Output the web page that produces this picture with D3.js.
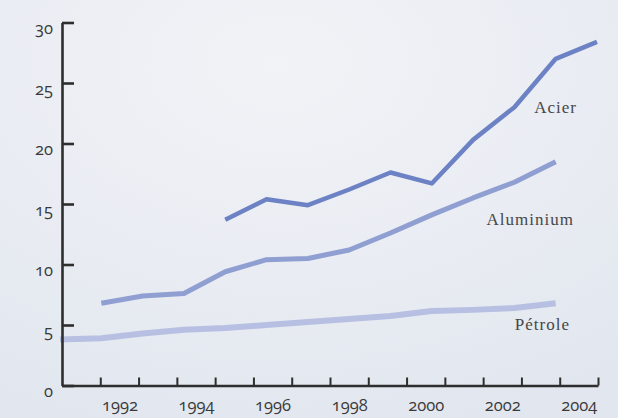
<!DOCTYPE html>
<html>
<head>
<meta charset="utf-8">
<script src="https://cdn.jsdelivr.net/npm/d3@7"></script>
<style>
  html, body { margin: 0; padding: 0; }
  body { width: 618px; height: 418px; overflow: hidden; }
  .num { font-family: "Open Sans", "Noto Sans", sans-serif; font-size: 16.5px; fill: #3a3a3a;
         font-variant-numeric: oldstyle-nums; font-feature-settings: "onum" 1; }
  .lbl { font-family: "Liberation Serif", "DejaVu Serif", serif; font-size: 17px; fill: #474747; letter-spacing: 1px; }
</style>
</head>
<body>
<div class="chart-area"></div>
<script>
// data (index = year)
const petroleYears = [1991, 1992, 1993, 1994, 1995, 1996, 1997, 1998, 1999, 2000, 2001, 2002, 2003];
const petrole = [3.8, 3.9, 4.3, 4.6, 4.75, 5.0, 5.25, 5.5, 5.75, 6.15, 6.25, 6.4, 6.8];
const aluminiumYears = [1992, 1993, 1994, 1995, 1996, 1997, 1998, 1999, 2000, 2001, 2002, 2003];
const aluminium = [6.8, 7.4, 7.6, 9.4, 10.4, 10.5, 11.2, 12.6, 14.1, 15.5, 16.8, 18.5];
const acierYears = [1995, 1996, 1997, 1998, 1999, 2000, 2001, 2002, 2003, 2004];
const acier = [13.7, 15.4, 14.9, 16.2, 17.6, 16.7, 20.3, 23.0, 27.0, 28.4];

const yTicks = [0, 5, 10, 15, 20, 25, 30];
const xTickYears = d3.range(1992, 2006);
const xLabels = [1992, 1994, 1996, 1998, 2000, 2002, 2004];

const width = 618, height = 418;

const svg = d3.select(".chart-area").append("svg")
  .attr("width", width)
  .attr("height", height)
  .attr("viewBox", [0, 0, width, height]);

// background
const defs = svg.append("defs");
const grad = defs.append("radialGradient")
  .attr("id", "bg").attr("cx", "45%").attr("cy", "15%").attr("r", "90%");
grad.append("stop").attr("offset", "0%").attr("stop-color", "#f2f3f7");
grad.append("stop").attr("offset", "100%").attr("stop-color", "#e2e7ef");
svg.append("rect").attr("width", width).attr("height", height).attr("fill", "url(#bg)");

// scales
const y = d3.scaleLinear().domain([0, 30]).range([385.5, 22.5]);
const x = d3.scaleLinear().domain([1991, 2004]).range([60, 597]);      // data points
const xAxisScale = d3.scaleLinear().domain([1991, 2005]).range([62, 598]); // axis ticks (year bands)

// lines
const line = d3.line().x(d => x(d[0])).y(d => y(d[1]));

const series = [
  { name: "Pétrole", years: petroleYears, values: petrole, color: "#b7c0e2", w: 6, lx: 570, ly: 330 },
  { name: "Aluminium", years: aluminiumYears, values: aluminium, color: "#909fd2", w: 5, lx: 574, ly: 225 },
  { name: "Acier", years: acierYears, values: acier, color: "#6c82c4", w: 4.5, lx: 577, ly: 113 }
];

svg.append("g")
  .selectAll("path")
  .data(series)
  .join("path")
  .attr("d", d => line(d.years.map((yr, i) => [yr, d.values[i]])))
  .attr("fill", "none")
  .attr("stroke", d => d.color)
  .attr("stroke-width", d => d.w)
  .attr("stroke-linejoin", "round");

svg.append("g")
  .selectAll("text")
  .data(series)
  .join("text")
  .attr("class", "lbl")
  .attr("x", d => d.lx)
  .attr("y", d => d.ly)
  .attr("text-anchor", "end")
  .text(d => d.name);

// y axis
const yAxis = svg.append("g")
  .attr("transform", "translate(62,0)")
  .call(d3.axisLeft(y).tickValues(yTicks).tickSize(-12).tickSizeOuter(0).tickPadding(9));
yAxis.select(".domain").attr("stroke", "#2e2e2e").attr("stroke-width", 2.6);
yAxis.selectAll(".tick line").attr("stroke", "#2e2e2e").attr("stroke-width", 2.6);
yAxis.selectAll(".tick text").attr("class", "num").attr("dy", "0.68em");
yAxis.attr("font-size", null).attr("font-family", null);

// x axis ticks
const xAxis = svg.append("g")
  .attr("transform", "translate(0,385.5)")
  .call(d3.axisBottom(xAxisScale).tickValues(xTickYears).tickSize(-8).tickSizeOuter(0).tickFormat(""));
xAxis.select(".domain").attr("stroke", "#2e2e2e").attr("stroke-width", 2.6);
xAxis.selectAll(".tick line").attr("stroke", "#2e2e2e").attr("stroke-width", 2);

// x labels, centred in each year band
const xLab = svg.append("g")
  .attr("transform", "translate(0,385.5)")
  .call(d3.axisBottom(xAxisScale).tickValues(xLabels.map(d => d + 0.5)).tickSize(0).tickPadding(14)
    .tickFormat(d => Math.floor(d)));
xLab.select(".domain").remove();
xLab.selectAll(".tick text").attr("class", "num");
xLab.attr("font-size", null).attr("font-family", null);
</script>
</body>
</html>
